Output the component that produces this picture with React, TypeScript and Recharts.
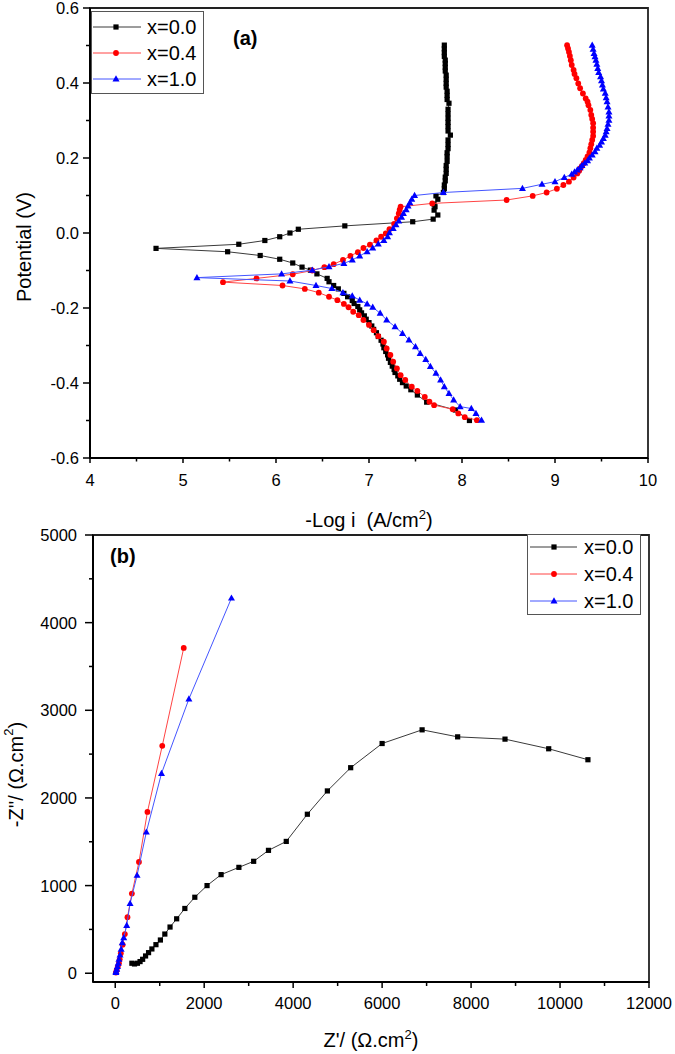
import React from 'react';
import { ScatterChart, Scatter, XAxis, YAxis, Legend, ReferenceArea, Label } from 'recharts';

const FONT = '"Liberation Sans", Arial, Helvetica, sans-serif';

// ---------- Panel (a): polarization curves, pairs of [-log i (A/cm2), potential (V)] ----------
const polX00: [number, number][] = [
  [8.08, -0.5], [7.93, -0.472], [7.62, -0.451], [7.52, -0.432], [7.45, -0.418], [7.4, -0.408],
  [7.36, -0.399], [7.33, -0.39], [7.31, -0.381], [7.28, -0.372], [7.27, -0.364], [7.25, -0.355],
  [7.23, -0.345], [7.21, -0.334], [7.2, -0.325], [7.18, -0.316], [7.16, -0.306], [7.15, -0.296],
  [7.13, -0.286], [7.1, -0.276], [7.08, -0.266], [7.05, -0.257], [7.03, -0.248], [7.0, -0.239],
  [6.97, -0.23], [6.95, -0.221], [6.92, -0.213], [6.9, -0.205], [6.88, -0.196], [6.84, -0.188],
  [6.82, -0.18], [6.77, -0.17], [6.73, -0.161], [6.67, -0.149], [6.62, -0.14], [6.57, -0.13],
  [6.55, -0.121], [6.44, -0.109], [6.37, -0.099], [6.28, -0.091], [6.18, -0.08], [6.04, -0.07],
  [5.83, -0.06], [5.48, -0.05], [4.71, -0.041], [5.6, -0.03], [5.88, -0.02], [6.04, -0.01],
  [6.15, 0.0], [6.24, 0.01], [6.74, 0.019], [7.47, 0.03], [7.69, 0.037], [7.74, 0.048],
  [7.7, 0.061], [7.71, 0.07], [7.7, 0.077], [7.74, 0.09], [7.72, 0.099], [7.8, 0.108],
  [7.81, 0.118], [7.81, 0.128], [7.82, 0.139], [7.82, 0.149], [7.83, 0.159], [7.83, 0.17],
  [7.83, 0.18], [7.84, 0.191], [7.84, 0.204], [7.84, 0.214], [7.85, 0.225], [7.85, 0.236],
  [7.85, 0.248], [7.875, 0.261], [7.85, 0.272], [7.85, 0.284], [7.85, 0.295], [7.85, 0.306],
  [7.85, 0.318], [7.85, 0.33], [7.86, 0.346], [7.84, 0.356], [7.84, 0.367], [7.84, 0.378],
  [7.83, 0.389], [7.83, 0.399], [7.83, 0.41], [7.83, 0.421], [7.82, 0.432], [7.82, 0.442],
  [7.82, 0.452], [7.82, 0.461], [7.81, 0.471], [7.81, 0.481], [7.81, 0.491], [7.81, 0.501],
];

const polX04: [number, number][] = [
  [8.16, -0.499], [8.03, -0.491], [7.96, -0.481], [7.9, -0.47], [7.7, -0.459], [7.65, -0.45],
  [7.6, -0.437], [7.52, -0.421], [7.46, -0.41], [7.39, -0.392], [7.34, -0.379], [7.3, -0.361],
  [7.26, -0.343], [7.23, -0.325], [7.19, -0.308], [7.16, -0.29], [7.1, -0.275], [7.05, -0.259],
  [7.0, -0.245], [6.94, -0.232], [6.89, -0.219], [6.83, -0.21], [6.78, -0.198], [6.73, -0.189],
  [6.66, -0.179], [6.57, -0.17], [6.46, -0.159], [6.31, -0.149], [6.07, -0.14], [5.43, -0.131],
  [5.79, -0.121], [6.18, -0.11], [6.39, -0.1], [6.52, -0.091], [6.62, -0.083], [6.72, -0.072],
  [6.8, -0.061], [6.88, -0.051], [6.94, -0.04], [7.01, -0.031], [7.08, -0.02], [7.13, -0.01],
  [7.18, -0.001], [7.22, 0.01], [7.27, 0.024], [7.3, 0.039], [7.32, 0.052], [7.33, 0.062],
  [7.34, 0.07], [7.68, 0.079], [8.48, 0.088], [8.76, 0.099], [8.91, 0.108], [9.02, 0.118],
  [9.09, 0.128], [9.15, 0.137], [9.2, 0.148], [9.24, 0.159], [9.26, 0.166], [9.27, 0.172],
  [9.29, 0.179], [9.31, 0.186], [9.33, 0.195], [9.35, 0.204], [9.37, 0.215], [9.38, 0.226],
  [9.39, 0.237], [9.4, 0.248], [9.41, 0.259], [9.41, 0.27], [9.41, 0.281], [9.41, 0.293],
  [9.4, 0.304], [9.39, 0.315], [9.38, 0.328], [9.36, 0.341], [9.35, 0.35], [9.33, 0.359],
  [9.3, 0.372], [9.27, 0.386], [9.25, 0.399], [9.23, 0.413], [9.21, 0.424], [9.2, 0.435],
  [9.18, 0.448], [9.17, 0.461], [9.16, 0.472], [9.15, 0.483], [9.14, 0.492], [9.13, 0.501],
];

const polX10: [number, number][] = [
  [8.21, -0.499], [8.15, -0.481], [8.1, -0.468], [7.98, -0.463], [7.91, -0.445], [7.86, -0.428],
  [7.81, -0.41], [7.77, -0.392], [7.72, -0.374], [7.66, -0.356], [7.61, -0.337], [7.55, -0.321],
  [7.5, -0.303], [7.43, -0.285], [7.36, -0.268], [7.28, -0.25], [7.19, -0.232], [7.12, -0.214],
  [7.04, -0.198], [6.98, -0.189], [6.9, -0.179], [6.82, -0.168], [6.72, -0.159], [6.6, -0.148],
  [6.43, -0.14], [6.15, -0.128], [5.15, -0.119], [6.06, -0.109], [6.39, -0.099], [6.57, -0.09],
  [6.73, -0.081], [6.82, -0.072], [6.9, -0.061], [6.98, -0.05], [7.04, -0.04], [7.1, -0.029],
  [7.16, -0.02], [7.2, -0.01], [7.22, 0.001], [7.26, 0.012], [7.29, 0.022], [7.32, 0.032],
  [7.35, 0.042], [7.37, 0.052], [7.4, 0.062], [7.42, 0.072], [7.44, 0.081], [7.46, 0.09],
  [7.49, 0.1], [7.8, 0.108], [8.65, 0.119], [8.86, 0.13], [9.0, 0.137], [9.1, 0.148],
  [9.18, 0.157], [9.21, 0.163], [9.24, 0.168], [9.27, 0.174], [9.29, 0.18], [9.32, 0.187],
  [9.35, 0.193], [9.37, 0.2], [9.4, 0.208], [9.43, 0.217], [9.45, 0.226], [9.48, 0.234],
  [9.5, 0.243], [9.52, 0.252], [9.54, 0.261], [9.55, 0.27], [9.56, 0.279], [9.57, 0.29],
  [9.58, 0.301], [9.58, 0.312], [9.58, 0.323], [9.57, 0.336], [9.56, 0.35], [9.55, 0.361],
  [9.54, 0.373], [9.52, 0.384], [9.51, 0.395], [9.5, 0.406], [9.49, 0.417], [9.47, 0.428],
  [9.46, 0.439], [9.45, 0.45], [9.44, 0.461], [9.43, 0.47], [9.42, 0.479], [9.41, 0.49],
  [9.4, 0.501],
];

// ---------- Panel (b): Nyquist plots, pairs of [Z' (ohm.cm2), -Z'' (ohm.cm2)] ----------
const nyqX00: [number, number][] = [
  [374, 114], [433, 106], [499, 114], [558, 133], [616, 159], [682, 197], [749, 235], [824, 277],
  [915, 326], [1015, 379], [1115, 447], [1232, 527], [1381, 621], [1565, 739], [1789, 867],
  [2064, 1000], [2380, 1125], [2780, 1208], [3112, 1277], [3445, 1402], [3845, 1504],
  [4319, 1814], [4769, 2080], [5293, 2345], [6000, 2621], [6899, 2777], [7698, 2697],
  [8763, 2671], [9745, 2561], [10627, 2436],
];
const nyqX04: [number, number][] = [
  [15, 8], [33, 38], [58, 76], [83, 114], [100, 159], [125, 227], [166, 326], [216, 447],
  [275, 640], [374, 909], [533, 1269], [724, 1841], [1057, 2595], [1540, 3712],
];
const nyqX10: [number, number][] = [
  [15, 8], [17, 19], [33, 45], [50, 76], [67, 114], [83, 159], [108, 208], [133, 273],
  [158, 348], [191, 405], [258, 545], [333, 795], [491, 1117], [699, 1610], [1040, 2280],
  [1656, 3129], [2613, 4280],
];

// ---------- series styling / names ----------
const seriesNames = ['x=0.0', 'x=0.4', 'x=1.0'];
const markerColors = ['#000000', '#ff0000', '#0000ff'];
const lineColors = ['#3a3a3a', '#ff4444', '#4455ff'];
const markerKinds = ['square', 'circle', 'triangle'];

// ---------- ticks ----------
const polLogTicks = [4, 4.5, 5, 5.5, 6, 6.5, 7, 7.5, 8, 8.5, 9, 9.5, 10];
const polPotTicks = [-0.6, -0.5, -0.4, -0.3, -0.2, -0.1, 0, 0.1, 0.2, 0.3, 0.4, 0.5, 0.6];
const nyqReTicks = [0, 1000, 2000, 3000, 4000, 5000, 6000, 7000, 8000, 9000, 10000, 11000, 12000];
const nyqImTicks = [0, 500, 1000, 1500, 2000, 2500, 3000, 3500, 4000, 4500, 5000];

const toPts = (arr: [number, number][]) => arr.map(([x, y]) => ({ x, y }));

const drawMarker = (kind: string, cx: number, cy: number, color: string) => {
  if (kind === 'square') return <rect x={cx - 2.6} y={cy - 2.6} width={5.2} height={5.2} fill={color} />;
  if (kind === 'circle') return <circle cx={cx} cy={cy} r={2.9} fill={color} />;
  return (
    <polygon
      points={`${cx},${cy - 3.7} ${cx - 3.5},${cy + 2.5} ${cx + 3.5},${cy + 2.5}`}
      fill={color}
    />
  );
};

type TickCfg = {
  major: (v: number) => boolean;
  fmt: (v: number) => string;
  majorLen: number;
  minorLen: number;
  offset: number;
};

const makeBottomTick = (cfg: TickCfg) => (props: any) => {
  const { x, y, payload } = props;
  const v = payload.value;
  const mj = cfg.major(v);
  return (
    <g>
      <line x1={x} y1={y} x2={x} y2={y + (mj ? cfg.majorLen : cfg.minorLen)} stroke="#000" strokeWidth={1.5} />
      {mj && (
        <text x={x} y={y + cfg.offset} textAnchor="middle" fontSize={16.5} fontFamily={FONT} fill="#000">
          {cfg.fmt(v)}
        </text>
      )}
    </g>
  );
};

const makeLeftTick = (cfg: TickCfg) => (props: any) => {
  const { x, y, payload } = props;
  const v = payload.value;
  const mj = cfg.major(v);
  return (
    <g>
      <line x1={x - (mj ? cfg.majorLen : cfg.minorLen)} y1={y} x2={x} y2={y} stroke="#000" strokeWidth={1.5} />
      {mj && (
        <text x={x - cfg.offset} y={y + 6} textAnchor="end" fontSize={16.5} fontFamily={FONT} fill="#000">
          {cfg.fmt(v)}
        </text>
      )}
    </g>
  );
};

const polXTick = makeBottomTick({
  major: (v) => Number.isInteger(v),
  fmt: (v) => String(v),
  majorLen: 5,
  minorLen: 3.5,
  offset: 28,
});
const polYTick = makeLeftTick({
  major: (v) => Math.abs(Math.round(v * 10)) % 2 === 0,
  fmt: (v) => v.toFixed(1),
  majorLen: 7,
  minorLen: 4,
  offset: 11,
});
const nyqXTick = makeBottomTick({
  major: (v) => v % 2000 === 0,
  fmt: (v) => String(v),
  majorLen: 6,
  minorLen: 4,
  offset: 27,
});
const nyqYTick = makeLeftTick({
  major: (v) => v % 1000 === 0,
  fmt: (v) => String(v),
  majorLen: 8,
  minorLen: 4,
  offset: 16,
});

// ---------- axis titles ----------
const titleStyle: React.CSSProperties = { whiteSpace: 'pre' };

const polXTitle = (props: any) => {
  const vb = props.viewBox || {};
  return (
    <text x={vb.x + vb.width / 2} y={vb.y + 69} textAnchor="middle" fontSize={20} fontFamily={FONT} fill="#000" style={titleStyle}>
      <tspan>-Log i  (A/cm</tspan>
      <tspan dy={-8} fontSize={13}>2</tspan>
      <tspan dy={8}>)</tspan>
    </text>
  );
};
const polYTitle = (props: any) => {
  const vb = props.viewBox || {};
  const cx = vb.x + 24;
  const cy = vb.y + vb.height / 2 + 14;
  return (
    <text x={cx} y={cy} transform={`rotate(-90, ${cx}, ${cy})`} textAnchor="middle" dominantBaseline="central" fontSize={20} fontFamily={FONT} fill="#000">
      Potential (V)
    </text>
  );
};
const nyqXTitle = (props: any) => {
  const vb = props.viewBox || {};
  return (
    <text x={vb.x + vb.width / 2} y={vb.y + 65} textAnchor="middle" fontSize={20} fontFamily={FONT} fill="#000" style={titleStyle}>
      <tspan>Z'/ (Ω.cm</tspan>
      <tspan dy={-8} fontSize={13}>2</tspan>
      <tspan dy={8}>)</tspan>
    </text>
  );
};
const nyqYTitle = (props: any) => {
  const vb = props.viewBox || {};
  const cx = vb.x + 16;
  const cy = vb.y + vb.height / 2 + 16;
  return (
    <text x={cx} y={cy} transform={`rotate(-90, ${cx}, ${cy})`} textAnchor="middle" dominantBaseline="central" fontSize={20} fontFamily={FONT} fill="#000" style={titleStyle}>
      <tspan>-Z''/ (Ω.cm</tspan>
      <tspan dy={-8} fontSize={13}>2</tspan>
      <tspan dy={8}>)</tspan>
    </text>
  );
};

// ---------- legend ----------
const makeLegend = (w: number, h: number, rows: number[], lx1: number, lx2: number, mx: number, tx: number) => () => (
  <svg width={w} height={h} style={{ display: 'block' }}>
    <rect x={0.5} y={0.5} width={w - 1} height={h - 1} fill="#fff" stroke="#555" strokeWidth={1} />
    {seriesNames.map((n, i) => (
      <g key={n}>
        <line x1={lx1} x2={lx2} y1={rows[i]} y2={rows[i]} stroke={lineColors[i]} strokeWidth={1} />
        {drawMarker(markerKinds[i], mx, rows[i], markerColors[i])}
        <text x={tx} y={rows[i] + 7} fontSize={20} fontFamily={FONT} fill="#000">
          {n}
        </text>
      </g>
    ))}
  </svg>
);

const polLegend = makeLegend(113, 83, [16, 42, 68], 2, 50, 25, 56);
const nyqLegend = makeLegend(114, 81, [13, 40, 67], 3, 50, 27, 57);

const polSeries = [polX00, polX04, polX10].map(toPts);
const nyqSeries = [nyqX00, nyqX04, nyqX10].map(toPts);

const renderSeries = (sets: { x: number; y: number }[][]) =>
  sets.map((d, i) => (
    <Scatter
      key={seriesNames[i]}
      name={seriesNames[i]}
      data={d}
      fill={markerColors[i]}
      line={{ stroke: lineColors[i], strokeWidth: 1 }}
      lineType="joint"
      shape={(p: any) => drawMarker(markerKinds[i], p.cx, p.cy, markerColors[i])}
      isAnimationActive={false}
    />
  ));

export default function App() {
  return (
    <div style={{ position: 'absolute', left: 0, top: 0, width: 675, height: 1054, background: '#fff', overflow: 'hidden' }}>
      <div style={{ position: 'absolute', left: 0, top: 0 }}>
        <ScatterChart width={675} height={540} margin={{ top: 8, right: 27, bottom: 0, left: 0 }}>
          <XAxis
            type="number"
            dataKey="x"
            domain={[4, 10]}
            ticks={polLogTicks}
            interval={0}
            allowDataOverflow
            height={82}
            tickSize={0}
            tickMargin={0}
            tickLine={false}
            tick={polXTick}
            axisLine={{ stroke: '#000', strokeWidth: 2 }}
            label={<Label content={polXTitle} />}
          />
          <YAxis
            type="number"
            dataKey="y"
            domain={[-0.6, 0.6]}
            ticks={polPotTicks}
            interval={0}
            allowDataOverflow
            width={90}
            tickSize={0}
            tickMargin={0}
            tickLine={false}
            tick={polYTick}
            axisLine={{ stroke: '#000', strokeWidth: 2 }}
            label={<Label content={polYTitle} />}
          />
          <ReferenceArea x1={4} x2={10} y1={-0.6} y2={0.6} fill="none" stroke="#222" strokeWidth={1.8} ifOverflow="visible" />
          {renderSeries(polSeries)}
          <Legend
            content={polLegend}
            layout="vertical"
            align="center"
            verticalAlign="middle"
            wrapperStyle={{ left: 91, top: 11, width: 113, height: 83, right: 'auto', bottom: 'auto' }}
          />
        </ScatterChart>
      </div>
      <div style={{ position: 'absolute', left: 0, top: 520 }}>
        <ScatterChart width={675} height={534} margin={{ top: 15, right: 26, bottom: 0, left: 0 }}>
          <XAxis
            type="number"
            dataKey="x"
            domain={[-500, 12000]}
            ticks={nyqReTicks}
            interval={0}
            allowDataOverflow
            height={72}
            tickSize={0}
            tickMargin={0}
            tickLine={false}
            tick={nyqXTick}
            axisLine={{ stroke: '#000', strokeWidth: 2 }}
            label={<Label content={nyqXTitle} />}
          />
          <YAxis
            type="number"
            dataKey="y"
            domain={[-100, 5000]}
            ticks={nyqImTicks}
            interval={0}
            allowDataOverflow
            width={93}
            tickSize={0}
            tickMargin={0}
            tickLine={false}
            tick={nyqYTick}
            axisLine={{ stroke: '#000', strokeWidth: 2 }}
            label={<Label content={nyqYTitle} />}
          />
          <ReferenceArea x1={-500} x2={12000} y1={-100} y2={5000} fill="none" stroke="#222" strokeWidth={1.8} ifOverflow="visible" />
          {renderSeries(nyqSeries)}
          <Legend
            content={nyqLegend}
            layout="vertical"
            align="center"
            verticalAlign="middle"
            wrapperStyle={{ left: 527, top: 14, width: 114, height: 81, right: 'auto', bottom: 'auto' }}
          />
        </ScatterChart>
      </div>
      <svg width={675} height={1054} style={{ position: 'absolute', left: 0, top: 0, pointerEvents: 'none' }}>
        <text x={233} y={45} fontSize={20} fontWeight="bold" fontFamily={FONT} fill="#000">(a)</text>
        <text x={110} y={563} fontSize={20} fontWeight="bold" fontFamily={FONT} fill="#000">(b)</text>
      </svg>
    </div>
  );
}
